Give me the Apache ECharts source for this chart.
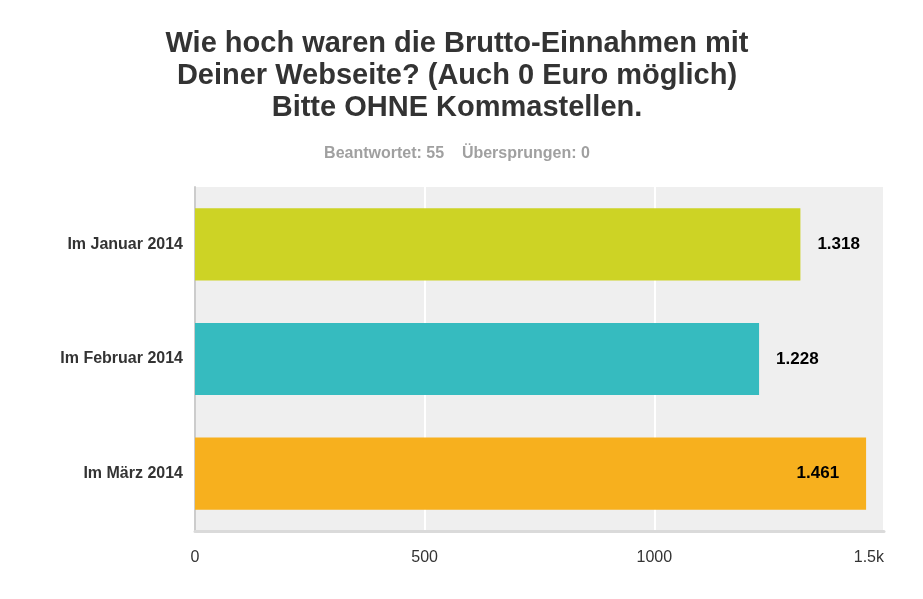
<!DOCTYPE html>
<html><head><meta charset="utf-8">
<script src="https://cdn.jsdelivr.net/npm/echarts@6/dist/echarts.min.js"></script>
<style>html,body{margin:0;padding:0;background:#fff}#c{width:923px;height:599px}</style>
</head><body><div id="c"></div>
<script>
const categories = ['Im Januar 2014', 'Im Februar 2014', 'Im März 2014'];
const values = [1318, 1228, 1461];
const colors = ['#cdd325', '#36bbbf', '#f7b01e'];
const ticks = [0, 500, 1000, 1500];

const fmtDe = v => String(v).replace(/\B(?=(\d{3})+(?!\d))/g, '.');
const chart = echarts.init(document.getElementById('c'));
chart.setOption({
  animation: false,
  textStyle: { fontFamily: 'Liberation Sans, Arial, sans-serif' },
  title: [{
    text: 'Wie hoch waren die Brutto-Einnahmen mit\nDeiner Webseite? (Auch 0 Euro möglich)\nBitte OHNE Kommastellen.',
    left: 452, top: 23, textAlign: 'center',
    textStyle: { fontSize: 29, fontWeight: 'bold', color: '#333', lineHeight: 32, fontFamily: 'Liberation Sans, Arial, sans-serif' }
  }, {
    text: 'Beantwortet: 55    Übersprungen: 0',
    left: 452, top: 141, textAlign: 'center',
    textStyle: { fontSize: 16, fontWeight: 'bold', color: '#a0a0a0', fontFamily: 'Liberation Sans, Arial, sans-serif' }
  }],
  grid: { left: 195, right: 39, top: 187, bottom: 68, show: true, backgroundColor: '#efefef', borderWidth: 0 },
  xAxis: {
    type: 'value', min: 0, max: 1500, interval: 500,
    axisLine: { show: true, lineStyle: { color: '#dadada', width: 3 } },
    axisTick: { show: false },
    splitLine: { show: true, lineStyle: { color: '#ffffff', width: 2 } },
    axisLabel: {
      color: '#333', fontSize: 16, margin: 19, alignMaxLabel: 'right',
      formatter: v => v === 1500 ? '1.5k' : String(v)
    }
  },
  yAxis: {
    type: 'category', data: categories, inverse: true,
    axisLine: { show: true, lineStyle: { color: '#cccccc', width: 2 } },
    axisTick: { show: false },
    axisLabel: { color: '#333', fontSize: 16, fontWeight: 'bold', margin: 12 }
  },
  series: [{
    type: 'bar', barWidth: '63%',
    data: values.map((v, i) => ({
      value: v,
      itemStyle: { color: colors[i] },
      label: i === 2 ? { position: 'insideRight', distance: 27 } : { position: 'right', distance: 17 }
    })),
    label: { show: true, color: '#000', fontSize: 17, fontWeight: 'bold', formatter: p => fmtDe(p.value) }
  }]
});
</script></body></html>
